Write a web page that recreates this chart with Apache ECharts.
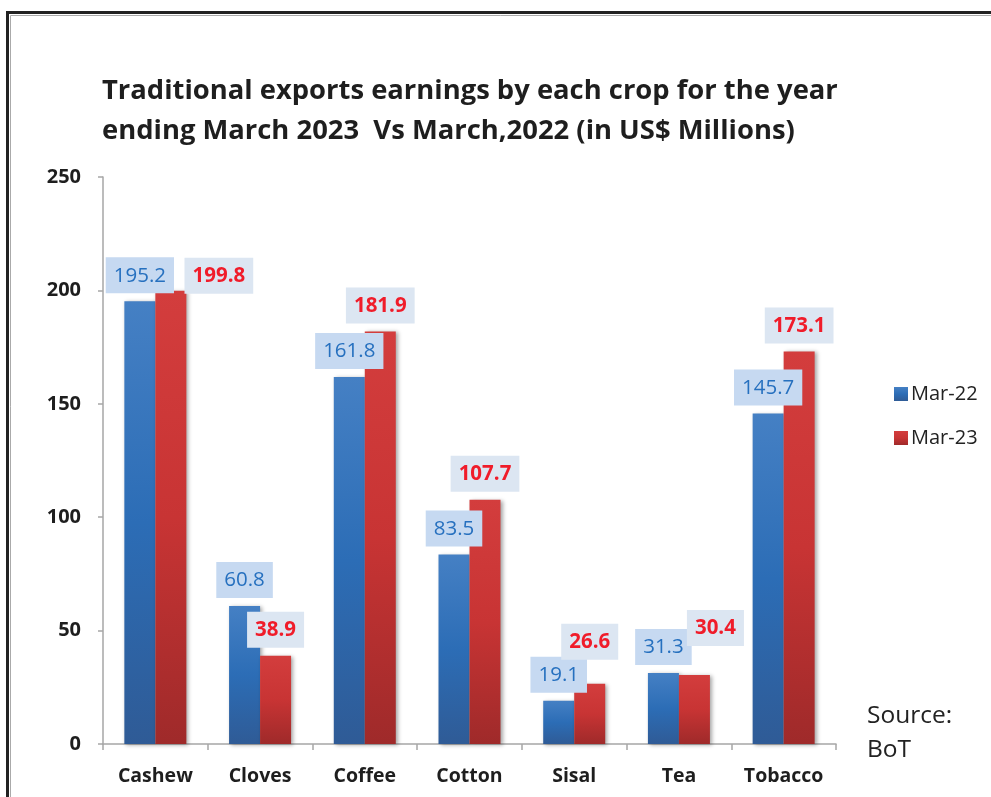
<!DOCTYPE html>
<html>
<head>
<meta charset="utf-8">
<script src="https://cdn.jsdelivr.net/npm/echarts@6/dist/echarts.min.js"></script>
<style>
html,body{margin:0;padding:0;background:#fff;}
#chart{width:991px;height:797px;}
</style>
</head>
<body>
<div id="chart"></div>
<script>
var categories = ['Cashew', 'Cloves', 'Coffee', 'Cotton', 'Sisal', 'Tea', 'Tobacco'];
var mar22 = [195.2, 60.8, 161.8, 83.5, 19.1, 31.3, 145.7];
var mar23 = [199.8, 38.9, 181.9, 107.7, 26.6, 30.4, 173.1];
var seriesNames = ['Mar-22', 'Mar-23'];
var titleLines = ['Traditional exports earnings by each crop for the year', 'ending March 2023  Vs March,2022 (in US$ Millions)'];
var sourceText = 'Source:\nBoT';

var FONT = '"Open Sans", "Noto Sans", sans-serif';

// label nudges (as the original chart avoids overlaps)
var redLabelOffsets = {0: [48, 11], 4: [0, -16], 5: [21, -21]};

var redData = mar23.map(function (v, i) {
  var o = {value: v};
  if (redLabelOffsets[i]) o.label = {offset: redLabelOffsets[i]};
  return o;
});

var blueGrad = new echarts.graphic.LinearGradient(0, 0, 0, 1, [
  {offset: 0, color: '#4580c4'},
  {offset: 0.5, color: '#2c6db6'},
  {offset: 1, color: '#2f5b96'}
]);
var redGrad = new echarts.graphic.LinearGradient(0, 0, 0, 1, [
  {offset: 0, color: '#d33d3d'},
  {offset: 0.5, color: '#c83434'},
  {offset: 1, color: '#9f2a2a'}
]);

var chart = echarts.init(document.getElementById('chart'));
chart.setOption({
  animation: false,
  backgroundColor: '#fff',
  title: {
    text: titleLines.join('\n'),
    left: 97,
    top: 66,
    textStyle: {fontFamily: FONT, fontWeight: 'bold', fontSize: 27.4, lineHeight: 40, color: '#1e1e1e'}
  },
  legend: {
    orient: 'vertical',
    left: 889,
    top: 379,
    itemWidth: 14,
    itemHeight: 14,
    itemGap: 24,
    icon: 'rect',
    data: seriesNames,
    textStyle: {fontFamily: FONT, fontSize: 20, lineHeight: 20, color: '#222', padding: [0, 0, 0, -2]}
  },
  grid: {left: 103, right: 155, top: 177, bottom: 53, containLabel: false},
  xAxis: {
    type: 'category',
    data: categories,
    axisLine: {lineStyle: {color: '#a6a6a6', width: 1.5}},
    axisTick: {show: true, alignWithLabel: false, length: 6, lineStyle: {color: '#a6a6a6', width: 1.5}},
    axisLabel: {fontFamily: FONT, fontWeight: 'bold', fontSize: 19.5, color: '#1e1e1e', margin: 22}
  },
  yAxis: {
    type: 'value',
    min: 0,
    max: 250,
    interval: 50,
    splitLine: {show: false},
    axisLine: {show: true, lineStyle: {color: '#a6a6a6', width: 1.5}},
    axisTick: {show: true, length: 5, lineStyle: {color: '#a6a6a6', width: 1.5}},
    axisLabel: {fontFamily: FONT, fontWeight: 'bold', fontSize: 20, color: '#1e1e1e', margin: 22}
  },
  series: [
    {
      name: seriesNames[0],
      type: 'bar',
      data: mar22,
      barWidth: 31,
      barGap: '0%',
      itemStyle: {color: blueGrad, shadowColor: 'rgba(0,0,0,0.35)', shadowBlur: 4, shadowOffsetX: 2, shadowOffsetY: 1},
      label: {
        show: true, position: 'top', distance: 8,
        fontFamily: FONT, fontSize: 20.5, color: '#2670bf',
        backgroundColor: '#c6d9f1', padding: [8, 8, 7, 8]
      }
    },
    {
      name: seriesNames[1],
      type: 'bar',
      data: redData,
      barWidth: 31,
      itemStyle: {color: redGrad, shadowColor: 'rgba(0,0,0,0.35)', shadowBlur: 4, shadowOffsetX: 2, shadowOffsetY: 1},
      label: {
        show: true, position: 'top', distance: 8,
        fontFamily: FONT, fontSize: 20.5, fontWeight: 'bold', color: '#f01c2a',
        backgroundColor: '#dce6f2', padding: [8, 8, 7, 8]
      }
    }
  ],
  graphic: [
    {type: 'line', shape: {x1: 7, y1: 12.5, x2: 991, y2: 12.5}, style: {stroke: '#222', lineWidth: 3}},
    {type: 'line', shape: {x1: 7.5, y1: 11, x2: 7.5, y2: 797}, style: {stroke: '#222', lineWidth: 3}},
    {type: 'line', shape: {x1: 10.5, y1: 15.5, x2: 991, y2: 15.5}, style: {stroke: '#aaa', lineWidth: 1}},
    {type: 'line', shape: {x1: 10.5, y1: 15.5, x2: 10.5, y2: 797}, style: {stroke: '#aaa', lineWidth: 1}},
    {type: 'text', left: 867, top: 699, style: {text: sourceText, fontFamily: FONT, fontSize: 24.5, lineHeight: 34, fill: '#222'}}
  ]
});
</script>
</body>
</html>
